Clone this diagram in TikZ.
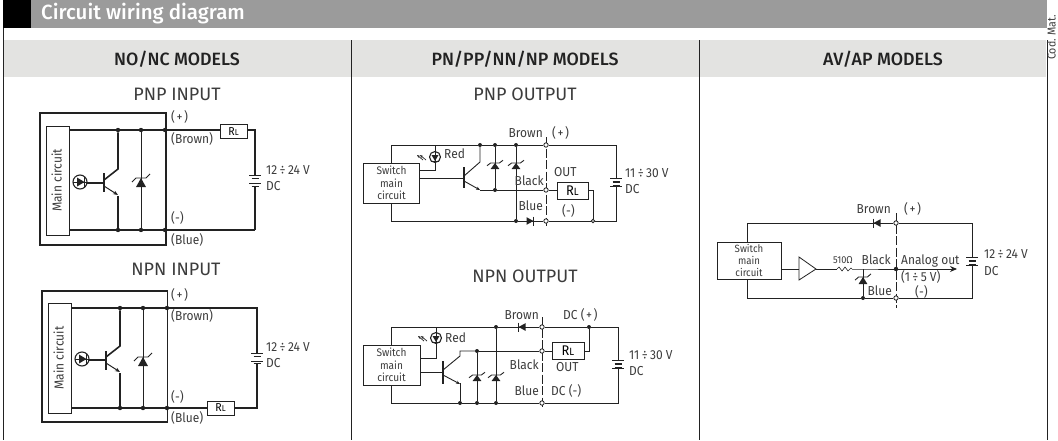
\documentclass[tikz,border=0pt]{standalone}
\usepackage{fontspec}
\setmainfont{Fira Sans}
\newfontfamily\lblfont[FakeStretch=0.92]{Fira Sans}
\newfontfamily\medfont{Fira Sans Medium}
\usetikzlibrary{arrows.meta}
\definecolor{ink}{HTML}{222222}
\definecolor{txt}{HTML}{3C3C3C}
\definecolor{head}{HTML}{9B9B9B}
\definecolor{band}{HTML}{E3E3E1}
\tikzset{
 x=1pt,y=-1pt,
 wire/.style={draw=ink,line width=0.9pt},
 heavy/.style={draw=ink,line width=1.6pt},
 frame/.style={draw=ink,line width=1.2pt},
 panelbox/.style={draw=ink,line width=0.8pt,fill=white,inner sep=0pt,align=center},
 swbox/.style={panelbox,font=\fontsize{11}{12.5}\lblfont,text=txt},
 lbl/.style={font=\fontsize{13}{14}\lblfont,text=txt,inner sep=0pt,text height=9pt,text depth=2pt},
 tiny/.style={font=\fontsize{10}{11}\lblfont,text=txt,inner sep=0pt},
 title/.style={font=\fontsize{18}{20}\selectfont,text=txt,inner sep=0pt,text height=12pt,text depth=2pt},
 colhead/.style={font=\fontsize{17.8}{19}\medfont,text=ink,inner sep=0pt},
 jdot/.style={circle,fill=ink,inner sep=0pt,minimum size=#1},
 jdot/.default=4.4pt,
 ring/.style={circle,draw=ink,fill=white,line width=0.8pt,inner sep=0pt,minimum size=4.4pt},
 cut/.style={draw=ink,line width=0.8pt,dash pattern=on 9pt off 2.5pt},
}
\newcommand\myZener[4]{%
 \fill[ink] (#1,#2) -- ++(#3*0.55,#4) -- ++(-#3*1.1,0) -- cycle;
 \draw[ink,line width=0.9pt] (#1-#3,#2+#4*0.45) -- (#1-#3*0.55,#2) -- (#1+#3*0.55,#2) -- (#1+#3,#2-#4*0.45);
}
\newcommand\myBatt[5]{%
 \draw[ink,line width=0.9pt] (#1-6,#2) -- (#1+6,#2) (#1-6,#4) -- (#1+6,#4);
 \draw[ink,line width=1.4pt] (#1-3.5,#3) -- (#1+3.5,#3) (#1-3.5,#5) -- (#1+3.5,#5);
}
\newcommand\myLedIn[2]{%
 \draw[ink,line width=1.1pt] (#1,#2) circle (7);
 \fill[ink] (#1+4.5,#2) -- (#1-3,#2-4.5) -- (#1-3,#2+4.5) -- cycle;
 \draw[ink,line width=1pt] (#1-7,#2) -- (#1+7,#2) (#1+4.5,#2-5) -- (#1+4.5,#2+5);
}
\newcommand\myLedOut[2]{%
 \draw[ink,line width=1.1pt] (#1,#2) circle (5.5);
 \fill[ink] (#1,#2+4) -- (#1-3.5,#2-2) -- (#1+3.5,#2-2) -- cycle;
 \draw[ink,line width=0.9pt] (#1-4,#2+4) -- (#1+4,#2+4);
 \draw[ink,line width=0.7pt,-{Stealth[length=3pt,width=2.5pt]}] (#1-9,#2+3) -- (#1-15,#2-2);
 \draw[ink,line width=0.7pt,-{Stealth[length=3pt,width=2.5pt]}] (#1-12,#2+3) -- (#1-18,#2-2);
}
\newcommand\myDiode[3]{%
 \fill[ink] (#1+#3*3.5,#2) -- (#1-#3*3.5,#2-3.8) -- (#1-#3*3.5,#2+3.8) -- cycle;
 \draw[ink,line width=1pt] (#1+#3*3.8,#2-4.5) -- (#1+#3*3.8,#2+4.5);
}
\newcommand\rlS{\fontsize{11.5}{11.5}\lblfont R\fontsize{8.5}{8.5}\selectfont L}
\newcommand\rlB{\fontsize{14}{14}\lblfont R\fontsize{10.5}{10.5}\selectfont L}
\newcommand\dv{\kern2.4pt÷\kern2.4pt}
\newcommand\plusp{(\kern1.5pt+\kern1.5pt)}
\begin{document}
\begin{tikzpicture}
\useasboundingbox (0,0) rectangle (1058,440);
\fill[black] (3,0) rectangle (31,28);
\fill[head] (31,0) rectangle (1047,28);
\fill[band] (4,40) rectangle (1046,77);
\node[font=\fontsize{20.5}{22}\medfont,text=white,anchor=west,inner sep=0pt] (maintitle) at (41,14) {Circuit wiring diagram};
\draw[ink,line width=0.9pt] (3.5,28) -- (3.5,440);
\draw[ink,line width=0.9pt] (351,40) -- (351,440) (699,40) -- (699,440) (1047,40) -- (1047,440);
\node[colhead] (h1) at (177,59) {NO/NC MODELS};
\node[colhead] (h2) at (525,59) {PN/PP/NN/NP MODELS};
\node[colhead] (h3) at (883,59) {AV/AP MODELS};
\node[rotate=90,anchor=base west,font=\fontsize{11.5}{13}\lblfont,text=txt,inner sep=0pt] (codmat) at (1055.5,60) {Cod. Mat.};

% PNP INPUT
\node[title] (t1) at (177,95) {PNP INPUT};
\draw[frame] (40,113) rectangle (166,245);
\node[panelbox,minimum width=23pt,minimum height=109pt] (mc1) at (58,180.5) {};
\node[rotate=90,lbl] (mc1t) at (58,180.5) {Main circuit};
\node[jdot] (a1) at (118,130) {}; \node[jdot] (a2) at (141,130) {}; \node[jdot] (a3) at (165,130) {};
\node[jdot] (b1) at (118,230) {}; \node[jdot] (b2) at (141,230) {}; \node[jdot] (b3) at (165,230) {};
\node[panelbox,minimum width=27pt,minimum height=14pt] (rl1) at (233.5,131.5) {\rlS};
\coordinate (c1t) at (255,130); \coordinate (c1b) at (255,230);
\draw[heavy] (mc1.east |- a1) -- (a1) -- (a2) -- (a3) -- (rl1.west |- a3);
\draw[heavy] (mc1.east |- b1) -- (b1) -- (b2) -- (b3) -- (c1b);
\draw[heavy] (rl1.east |- c1t) -- (c1t) -- (255,175);
\draw[heavy] (255,187) -- (c1b);
\myBatt{255}{175.5}{178.5}{183}{186.5}
\draw[heavy] (a1) -- (118,169) -- (104,180);
\draw[heavy] (b1) -- (118,196);
\draw[ink,line width=1pt,-{Stealth[length=5pt,width=4pt]}] (104,186) -- (118,195);
\draw[heavy] (104,173) -- (104,192);
\draw[heavy] (87,183) -- (104,183);
\myLedIn{80}{182}
\draw[ink,line width=1pt] (a2) -- (b2);
\myZener{141}{178}{9}{9}
\node[lbl,anchor=west] (p1) at (171,118) {\plusp};
\node[lbl,anchor=west] (p2) at (171,140) {(Brown)};
\node[lbl,anchor=west] (p3) at (266,171) {12\dv 24 V};
\node[lbl,anchor=west] (p4) at (266,187) {DC};
\node[lbl,anchor=west] (p5) at (171,219) {(-)};
\node[lbl,anchor=west] (p6) at (171,241) {(Blue)};

% NPN INPUT
\node[title] (t2) at (176,270) {NPN INPUT};
\draw[frame] (42,291) rectangle (167.5,422);
\node[panelbox,minimum width=23pt,minimum height=110pt] (mc2) at (60,358) {};
\node[rotate=90,lbl] (mc2t) at (60,358) {Main circuit};
\node[jdot] (d1) at (120,308) {}; \node[jdot] (d2) at (143,308) {}; \node[jdot] (d3) at (167,308) {};
\node[jdot] (e1) at (120,408) {}; \node[jdot] (e2) at (143,408) {}; \node[jdot] (e3) at (167,408) {};
\node[panelbox,minimum width=27pt,minimum height=14pt] (rl2) at (220.5,408) {\rlS};
\coordinate (c2t) at (257,308); \coordinate (c2b) at (257,408);
\draw[heavy] (mc2.east |- d1) -- (d1) -- (d2) -- (d3) -- (c2t) -- (257,353);
\draw[heavy] (mc2.east |- e1) -- (e1) -- (e2) -- (e3) -- (rl2.west |- e3);
\draw[heavy] (rl2.east |- c2b) -- (c2b) -- (257,363);
\myBatt{257}{353.5}{356.5}{361}{363.5}
\draw[ink,line width=0.9pt] (d3) -- (e3);
\draw[heavy] (d1) -- (120,346) -- (106,357);
\draw[heavy] (e1) -- (120,373);
\draw[ink,line width=1pt,-{Stealth[length=5pt,width=4pt]}] (106,363) -- (120,372);
\draw[heavy] (106,351) -- (106,370);
\draw[heavy] (89,360) -- (106,360);
\myLedIn{82}{359}
\draw[ink,line width=1pt] (d2) -- (e2);
\myZener{143}{357}{9}{9}
\node[lbl,anchor=west] (q1) at (171,296) {\plusp};
\node[lbl,anchor=west] (q2) at (171,317) {(Brown)};
\node[lbl,anchor=west] (q3) at (266,348) {12\dv 24 V};
\node[lbl,anchor=west] (q4) at (266,364) {DC};
\node[lbl,anchor=west] (q5) at (171,398) {(-)};
\node[lbl,anchor=west] (q6) at (171,419) {(Blue)};

% PNP OUTPUT
\node[title] (t3) at (525,95) {PNP OUTPUT};
\node[swbox,minimum width=56pt,minimum height=40pt] (sw3) at (391.5,183) {Switch\\main\\circuit};
\coordinate (f0) at (391,145); \coordinate (f9) at (616,145);
\coordinate (g0) at (391,221); \coordinate (g9) at (616,221);
\node[jdot=4pt] (f1) at (480,145) {}; \node[jdot=4pt] (f2) at (495,145) {}; \node[jdot=4pt] (f3) at (516,145) {};
\node[jdot=4pt] (m1) at (495,190) {};
\node[jdot=4pt] (g1) at (516,221) {};
\node[panelbox,minimum width=31pt,minimum height=17pt] (rl3) at (572.5,190.5) {\rlB};
\draw[cut] (546,137) -- (546,226);
\node[ring] (f4) at (546,145) {}; \node[ring] (m2) at (546,190) {}; \node[ring] (g2) at (546,221) {}; \node[ring,minimum size=3.6pt] (g3) at (593,221) {};
\draw[wire] (sw3.north -| f0) -- (f0) -- (f1) -- (f2) -- (f3) -- (f4) -- (f9) -- (616,178);
\draw[wire] (sw3.south -| g0) -- (g0) -- (g1) -- (g2) -- (g3) -- (g9) -- (616,186);
\myBatt{616}{178}{182}{186}{186}
\draw[wire] (435,145) -- (435,170) -- (sw3.east |- 435,170);
\myLedOut{435}{157}
\draw[wire] (sw3.east |- 464,178) -- (464,178);
\draw[ink,line width=1.1pt] (464,167) -- (464,188);
\draw[wire] (f1) -- (480,162) -- (464,176);
\draw[ink,line width=0.9pt,-{Stealth[length=4pt,width=3.2pt]}] (464,181) -- (480,190);
\draw[wire] (480,190) -- (m1) -- (m2) -- (rl3.west |- m2);
\draw[wire] (rl3.east |- m2) -- (593,190) -- (g3);
\draw[wire] (f2) -- (m1);
\draw[wire] (f3) -- (g1);
\myZener{495}{163}{8}{6}
\myZener{516}{163}{8}{6}
\myDiode{530}{221}{1}
\node[lbl,anchor=east] (r1) at (543,134) {Brown};
\node[lbl,anchor=west] (r2) at (552,134) {\plusp};
\node[lbl,anchor=west] (r3) at (444,155) {Red};
\node[lbl,anchor=west] (r4) at (554,173) {OUT};
\node[lbl,anchor=east] (r5) at (544,182) {Black};
\node[lbl,anchor=east] (r6) at (543,207) {Blue};
\node[lbl,anchor=west] (r7) at (562,212) {(-)};
\node[lbl,anchor=west] (r8) at (625,174) {11\dv 30 V};
\node[lbl,anchor=west] (r9) at (625,190) {DC};

% NPN OUTPUT
\node[title] (t4) at (525,277) {NPN OUTPUT};
\node[swbox,minimum width=57pt,minimum height=40pt] (sw4) at (391.5,365) {Switch\\main\\circuit};
\coordinate (k0) at (391,327); \coordinate (k9) at (618,327);
\coordinate (n0) at (391,403); \coordinate (n9) at (618,403);
\node[jdot=4pt] (k1) at (496,327) {}; \node[jdot=4pt] (k3) at (589,327) {};
\node[jdot=4pt] (l1) at (477,351) {};
\node[jdot=4pt] (n1) at (460,403) {}; \node[jdot=4pt] (n2) at (477,403) {}; \node[jdot=4pt] (n3) at (496,403) {};
\node[panelbox,minimum width=32pt,minimum height=17pt] (rl4) at (568,350.5) {\rlB};
\draw[cut] (542,317) -- (542,408);
\node[ring] (k2) at (542,327) {}; \node[ring] (l2) at (542,351) {}; \node[ring] (n4) at (542,403) {};
\draw[wire] (sw4.north -| k0) -- (k0) -- (k1) -- (k2) -- (k3) -- (k9) -- (618,360);
\draw[wire] (sw4.south -| n0) -- (n0) -- (n1) -- (n2) -- (n3) -- (n4) -- (n9) -- (618,368);
\myBatt{618}{360}{364}{368}{368}
\draw[wire] (436,327) -- (436,358) -- (sw4.east |- 436,358);
\myLedOut{436}{338}
\draw[wire] (sw4.east |- 443,372) -- (443,372);
\draw[ink,line width=1.1pt] (443,361) -- (443,384);
\draw[wire] (l1) -- (460,351) -- (460,356) -- (443,370);
\draw[wire] (l1) -- (l2) -- (rl4.west |- l2);
\draw[wire] (rl4.east |- l2) -- (589,351) -- (k3);
\draw[ink,line width=0.9pt,-{Stealth[length=4pt,width=3.2pt]}] (443,375) -- (460,384);
\draw[wire] (460,383) -- (n1);
\draw[wire] (l1) -- (n2);
\draw[wire] (k1) -- (n3);
\myZener{477}{375}{8}{6}
\myZener{496}{375}{8}{6}
\myDiode{522}{327}{-1}
\node[lbl,anchor=east] (s1) at (539,316) {Brown};
\node[lbl,anchor=west] (s2) at (563,316) {DC \plusp};
\node[lbl,anchor=west] (s3) at (445,339) {Red};
\node[lbl,anchor=west] (s4) at (556,368) {OUT};
\node[lbl,anchor=east] (s5) at (539,366) {Black};
\node[lbl,anchor=east] (s6) at (539,392) {Blue};
\node[lbl,anchor=west] (s7) at (551,392) {DC (-)};
\node[lbl,anchor=west] (s8) at (629,356) {11\dv 30 V};
\node[lbl,anchor=west] (s9) at (629,372) {DC};

% AV/AP
\node[swbox,font=\fontsize{10.5}{12}\lblfont,minimum width=64pt,minimum height=37pt] (sw5) at (749,260.5) {Switch\\main\\circuit};
\coordinate (u0) at (747,223); \coordinate (u9) at (972,223);
\coordinate (v0) at (747,298); \coordinate (v9) at (972,298);
\draw[cut] (896,213) -- (896,308);
\node[ring] (u1) at (896,223) {}; \node[ring] (v2) at (896,298) {};
\node[jdot=4pt] (v1) at (863,298) {};
\node[jdot=4.4pt] (w3) at (896,269) {};
\coordinate (w2) at (863,269);
\draw[wire] (sw5.north -| u0) -- (u0) -- (u1) -- (u9) -- (972,257);
\draw[wire] (sw5.south -| v0) -- (v0) -- (v1) -- (v2) -- (v9) -- (972,265);
\myBatt{972}{257}{261}{265}{265}
\draw[wire] (sw5.east |- 799,269) -- (799,269);
\draw[draw=ink,line width=0.8pt,fill=white] (799,257) -- (816,269) -- (799,280) -- cycle;
\coordinate (amp) at (816,269);
\draw[wire] (amp) -- (837,269);
\draw[ink,line width=0.6pt] (837,269) -- (839,267) -- (842,271) -- (845,267) -- (848,271) -- (851,268) -- (852,269);
\draw[wire] (852,269) -- (w2) -- (w3);
\draw[wire,-{Stealth[length=7pt,width=6pt]}] (w3) -- (957,269);
\draw[wire] (w2) -- (v1);
\myZener{863}{277}{8}{7}
\myDiode{877}{223}{-1}
\node[lbl,anchor=east] (x1) at (891,210) {Brown};
\node[lbl,anchor=west] (x2) at (904,210) {\plusp};
\node[tiny] (x3) at (843,260) {510Ω};
\node[lbl,anchor=east] (x4) at (891,261) {Black};
\node[lbl,anchor=west] (x5) at (901,261) {Analog out};
\node[lbl,anchor=west] (x6) at (901,278) {(1\dv 5 V)};
\node[lbl,anchor=west] (x7) at (915,293) {(-)};
\node[lbl,anchor=east] (x8) at (892,292) {Blue};
\node[lbl,anchor=west] (x9) at (984,255) {12\dv 24 V};
\node[lbl,anchor=west] (x10) at (984,272) {DC};
\end{tikzpicture}
\end{document}
